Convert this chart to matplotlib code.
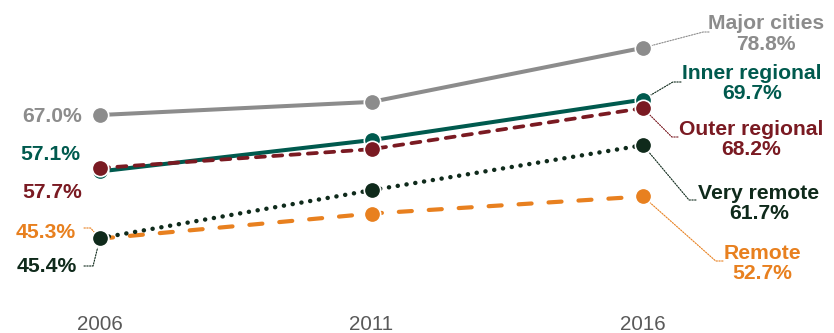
import numpy as np
import matplotlib
matplotlib.use("Agg")
import matplotlib.pyplot as plt

plt.rcParams['font.family'] = ['Liberation Sans', 'DejaVu Sans']
plt.rcParams['lines.scale_dashes'] = False

years = [2006, 2011, 2016]
major_cities = [67.0, 69.3, 78.8]
inner_regional = [57.1, 62.6, 69.7]
outer_regional = [57.7, 61.0, 68.2]
very_remote = [45.4, 53.8, 61.7]
remote = [45.3, 49.7, 52.7]

names = ["Major cities", "Inner regional", "Outer regional", "Very remote", "Remote"]
series = [major_cities, inner_regional, outer_regional, very_remote, remote]
colors = ["#8C8C8C", "#005A4E", "#7A1A22", "#0F2A1B", "#E8801F"]
styles = [
    dict(ls="-", lw=2.9),
    dict(ls="-", lw=2.9),
    dict(ls=(0, (6.5, 6.0)), lw=2.7, dash_capstyle="round"),
    dict(ls=(0, (0.1, 6.3)), lw=3.2, dash_capstyle="round"),
    dict(ls=(0, (9.4, 12.2)), lw=3.0, dash_capstyle="round"),
]
zorders = [3, 3, 4, 4, 3]

W, H = 834, 333
fig = plt.figure(figsize=(W / 100, H / 100), dpi=100)
ax = fig.add_axes([0, 28 / H, 1, 1 - 28 / H])


def px(x, y):
    # pixel position (from top-left) -> figure fraction
    return (x / W, 1 - y / H)


for name, vals, c, st, z in zip(names, series, colors, styles, zorders):
    ax.plot(years, vals, color=c, zorder=z, solid_capstyle="butt", **st)
    ax.plot(years, vals, ls="none", marker="o", ms=11.8, mfc=c, mec="white",
            mew=1.2, zorder=z + 2)

ax.set_xlim(2004.158, 2019.517)
ax.set_ylim(33.65, 87.19)
ax.set_xticks(years)
ax.set_xticklabels([str(y) for y in years])
ax.tick_params(axis="x", length=0, pad=7, labelsize=14.8, labelcolor="#595959")
ax.set_yticks([])
for s in ax.spines.values():
    s.set_visible(False)

# right-hand labels: (centre x, centre y, leader start x, start y, leader angle)
right_pos = [
    (766, 34, 709, 32, 14.7),
    (752, 83.5, 681, 82, 30.6),
    (751, 139.5, 678, 137, -45),
    (759, 203.5, 696, 200, -50),
    (762, 263.5, 723, 261, -41.6),
]
for name, vals, c, (tx, ty, lx, ly, ang) in zip(names, series, colors, right_pos):
    ax.text(*px(tx, ty), f"{name}\n{vals[-1]:.1f}%", transform=fig.transFigure,
            ha="center", va="center", fontsize=15.2, fontweight="bold",
            color=c, linespacing=1.12)
    lc = "#0F2A1B" if name == "Inner regional" else c
    ax.annotate("", xy=(years[-1], vals[-1]), xytext=px(lx, ly),
                textcoords="figure fraction",
                arrowprops=dict(arrowstyle="-", color=lc, lw=0.8, ls=(0, (1, 1)),
                                shrinkA=0, shrinkB=0,
                                connectionstyle=f"angle,angleA=0,angleB={ang},rad=0"),
                zorder=2)

# left-hand labels: (right x, centre y)
left_pos = [(82, 117), (80, 154), (82, 193), (77, 267), (76, 233)]
for name, vals, c, (tx, ty) in zip(names, series, colors, left_pos):
    ax.text(*px(tx, ty), f"{vals[0]:.1f}%", transform=fig.transFigure,
            ha="right", va="center", fontsize=15.2, fontweight="bold", color=c)

# leaders for the two overlapping 2006 points
ax.annotate("", xy=(years[0], remote[0]), xytext=px(84, 228),
            textcoords="figure fraction",
            arrowprops=dict(arrowstyle="-", color=colors[4], lw=0.8, ls=(0, (1, 1)),
                            shrinkA=0, shrinkB=0,
                            connectionstyle="angle,angleA=0,angleB=131.6,rad=0"),
            zorder=2)
ax.annotate("", xy=(years[0], very_remote[0]), xytext=px(84, 266),
            textcoords="figure fraction",
            arrowprops=dict(arrowstyle="-", color=colors[3], lw=0.8, ls=(0, (1, 1)),
                            shrinkA=0, shrinkB=0,
                            connectionstyle="angle,angleA=0,angleB=76,rad=0"),
            zorder=2)

fig.savefig("out.png", dpi=100)
